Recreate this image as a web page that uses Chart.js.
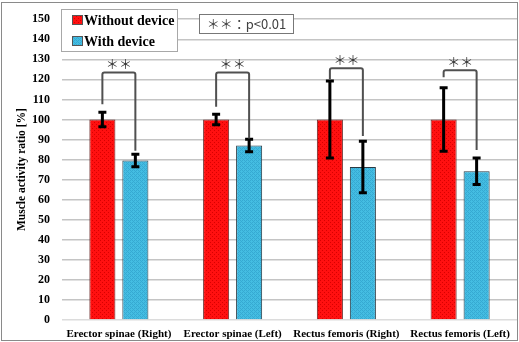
<!DOCTYPE html>
<html>
<head>
<meta charset="utf-8">
<script src="https://cdn.jsdelivr.net/npm/chart.js@4"></script>
<style>
  html, body { margin: 0; padding: 0; background: #fff; }
  #wrap { width: 519px; height: 342px; position: relative; }
</style>
</head>
<body>
<div id="wrap"><canvas id="chart" width="519" height="342"></canvas></div>
<script>
// Muscle activity ratio with / without the assist device
const categories = ['Erector spinae (Right)', 'Erector spinae (Left)', 'Rectus femoris (Right)', 'Rectus femoris (Left)'];
const seriesNames = ['Without device', 'With device'];
const withoutDevice = [100, 100, 100, 100];
const withoutDeviceErr = [3.6, 2.6, 19.2, 15.8];
const withDevice = [79.5, 87, 76.3, 74.2];
const withDeviceErr = [3.1, 3.1, 12.8, 6.6];
// significance brackets (value units)
const bracketTop = [123.4, 123.4, 125.5, 124.5];
const bracketLeftEnd = [107.6, 106.4, 120, 121];
const bracketRightEnd = [84.4, 90.5, 91.7, 84.8];
const sigLabels = ['＊＊', '＊＊', '＊＊', '＊＊'];
const pNote = '＊＊：p<0.01';
const yTicks = [0, 10, 20, 30, 40, 50, 60, 70, 80, 90, 100, 110, 120, 130, 140, 150];

function makePattern(base, dot, kind) {
  const c = document.createElement('canvas');
  c.width = 4; c.height = 4;
  const g = c.getContext('2d');
  g.fillStyle = base; g.fillRect(0, 0, 4, 4);
  g.fillStyle = dot;
  if (kind === 'dots') {
    g.fillRect(0, 0, 1, 1); g.fillRect(2, 2, 1, 1);
  } else {
    g.fillRect(0, 0, 1, 1); g.fillRect(1, 1, 1, 1); g.fillRect(2, 2, 1, 1); g.fillRect(3, 3, 1, 1);
    g.fillRect(2, 0, 1, 1); g.fillRect(0, 2, 1, 1);
  }
  return document.createElement('canvas').getContext('2d').createPattern(c, 'repeat');
}
const redFill = makePattern('#ff1010', '#d80000', 'dots');
const blueFill = makePattern('#44bde2', '#36a9d2', 'check');

const errs = [withoutDeviceErr, withDeviceErr];

const errorBarPlugin = {
  id: 'errorBars',
  afterDatasetsDraw(chart) {
    const ctx = chart.ctx;
    const y = chart.scales.y;
    ctx.save();
    ctx.strokeStyle = '#000';
    ctx.lineWidth = 3;
    chart.data.datasets.forEach((ds, di) => {
      const meta = chart.getDatasetMeta(di);
      meta.data.forEach((bar, i) => {
        const v = ds.data[i], e = errs[di][i];
        const yt = y.getPixelForValue(v + e), yb = y.getPixelForValue(v - e);
        ctx.beginPath();
        ctx.moveTo(bar.x, yt); ctx.lineTo(bar.x, yb);
        ctx.moveTo(bar.x - 4, yt); ctx.lineTo(bar.x + 4, yt);
        ctx.moveTo(bar.x - 4, yb); ctx.lineTo(bar.x + 4, yb);
        ctx.stroke();
      });
    });
    ctx.restore();
  }
};

const bracketPlugin = {
  id: 'brackets',
  afterDatasetsDraw(chart) {
    const ctx = chart.ctx;
    const y = chart.scales.y;
    const m0 = chart.getDatasetMeta(0), m1 = chart.getDatasetMeta(1);
    ctx.save();
    ctx.strokeStyle = '#505050';
    ctx.lineWidth = 2;
    ctx.lineJoin = 'round';
    categories.forEach((c, i) => {
      const xl = m0.data[i].x, xr = m1.data[i].x;
      const yt = y.getPixelForValue(bracketTop[i]);
      ctx.beginPath();
      ctx.moveTo(xl, y.getPixelForValue(bracketLeftEnd[i]));
      ctx.lineTo(xl, yt + 2);
      ctx.quadraticCurveTo(xl, yt, xl + 2, yt);
      ctx.lineTo(xr - 2, yt);
      ctx.quadraticCurveTo(xr, yt, xr, yt + 2);
      ctx.lineTo(xr, y.getPixelForValue(bracketRightEnd[i]));
      ctx.stroke();
      ctx.fillStyle = '#333';
      ctx.font = '13px "Noto Sans CJK JP"';
      ctx.textAlign = 'center';
      ctx.textBaseline = 'middle';
      ctx.fillText(sigLabels[i], (xl + xr) / 2, yt - 8);
    });
    ctx.restore();
  }
};

const decorPlugin = {
  id: 'decor',
  afterDraw(chart) {
    const ctx = chart.ctx;
    ctx.save();
    // outer frame
    ctx.strokeStyle = '#8a8a8a';
    ctx.lineWidth = 1;
    ctx.strokeRect(1.5, 2.5, 516, 338);
    // legend box
    ctx.fillStyle = '#fff';
    ctx.fillRect(61, 9, 117, 43);
    ctx.strokeStyle = '#a8a8a8';
    ctx.strokeRect(61.5, 9.5, 116, 42);
    const fills = [redFill, blueFill];
    ctx.font = 'bold 14px "Liberation Serif"';
    ctx.textAlign = 'left';
    ctx.textBaseline = 'middle';
    seriesNames.forEach((n, k) => {
      const cy = 20 + k * 21;
      ctx.fillStyle = fills[k];
      ctx.fillRect(73, cy - 4, 9, 8);
      ctx.strokeStyle = '#555';
      ctx.strokeRect(72.5, cy - 4.5, 10, 9);
      ctx.fillStyle = '#000';
      ctx.fillText(n, 84, cy + 1);
    });
    // p-value note
    ctx.fillStyle = '#fff';
    ctx.fillRect(199, 14, 94, 19);
    ctx.strokeStyle = '#777';
    ctx.strokeRect(199.5, 14.5, 94, 19);
    ctx.fillStyle = '#404040';
    ctx.font = '13px "Noto Sans CJK JP"';
    ctx.textAlign = 'center';
    ctx.fillText(pNote, 246.5, 24.5);
    ctx.restore();
  }
};

new Chart(document.getElementById('chart'), {
  type: 'bar',
  data: {
    labels: categories,
    datasets: [
      { label: seriesNames[0], data: withoutDevice, backgroundColor: redFill, borderColor: '#6a2a2a', borderWidth: 1, categoryPercentage: 0.58, barPercentage: 0.79 },
      { label: seriesNames[1], data: withDevice, backgroundColor: blueFill, borderColor: '#2a3a44', borderWidth: 1, categoryPercentage: 0.58, barPercentage: 0.79 }
    ]
  },
  options: {
    responsive: false,
    animation: false,
    layout: { padding: { top: 0, right: 2, bottom: 0, left: 0 } },
    plugins: { legend: { display: false }, tooltip: { enabled: false } },
    scales: {
      x: {
        grid: { display: false, drawTicks: false },
        border: { display: false },
        afterFit(s) { s.height = 22; },
        ticks: { color: '#000', font: { family: 'Liberation Serif', weight: 'bold', size: 11 }, padding: 8, maxRotation: 0, autoSkip: false }
      },
      y: {
        min: 0, max: 150,
        afterBuildTicks(s) { s.ticks = yTicks.map(v => ({ value: v })); },
        afterFit(s) { s.width = 62; },
        grid: { color: (c) => c.tick && c.tick.value === 0 ? '#dcdcdc' : '#c4c4c4', lineWidth: 1.5, drawTicks: false },
        border: { display: false },
        ticks: { color: '#000', font: { family: 'Liberation Serif', weight: 'bold', size: 12 }, padding: 12 },
        title: { display: true, text: 'Muscle activity ratio [%]', color: '#000', font: { family: 'Liberation Serif', weight: 'bold', size: 11.5 }, padding: { top: 15, bottom: 0 } }
      }
    }
  },
  plugins: [errorBarPlugin, bracketPlugin, decorPlugin]
});
</script>
</body>
</html>
